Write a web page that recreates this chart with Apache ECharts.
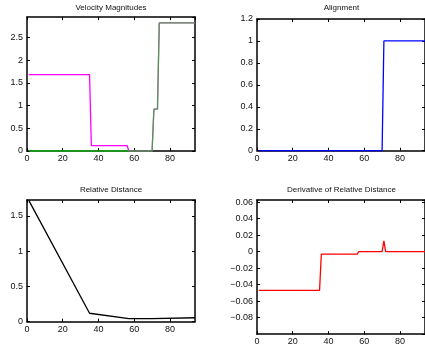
<!DOCTYPE html>
<html>
<head>
<meta charset="utf-8">
<script src="https://cdn.jsdelivr.net/npm/echarts@6/dist/echarts.min.js"></script>
<style>
body{margin:0;background:#fff;}
#main{width:425px;height:349px;}
</style>
</head>
<body>
<div id="main"></div>
<script>
// data: [sample, value]
var titles = ['Velocity Magnitudes', 'Alignment', 'Relative Distance', 'Derivative of Relative Distance'];
var velMagenta = [[1,1.68],[35,1.68],[36,0.12],[56,0.12],[57,0],[70,0],[71,0.92],[73,0.92],[74,2.82],[94,2.82]];
var velGreen = [[1,0],[70,0],[71,0.92],[73,0.92],[74,2.82],[94,2.82]];
var alignment = [[1,0],[70,0],[71,1],[94,1]];
var relDist = [[1,1.72],[35,0.12],[57,0.043],[70,0.043],[71,0.056],[94,0.056]];
var relDistDeriv = [[1,-0.047],[35,-0.047],[36,-0.003],[56,-0.003],[57,0],[70,0],[71,0.013],[72,0],[94,0]];
var xMax = 94, xStep = 20;

var font = 'Liberation Sans';
var myChart = echarts.init(document.getElementById('main'));

// grid boxes: left, top, width, height
var boxes = [
	[27, 17, 168, 134],
	[257, 19, 169, 131.7],
	[27, 200, 168, 121.7],
	[257, 200, 169, 134.2]
];
// y ranges
var yRange = [
	{min: 0, max: 2.95, interval: 0.5, maxLabel: false, minLabel: true},
	{min: 0, max: 1.2, interval: 0.2, maxLabel: true, minLabel: true},
	{min: 0, max: 1.725, interval: 0.5, maxLabel: false, minLabel: true},
	{min: -0.1, max: 0.0625, interval: 0.02, maxLabel: false, minLabel: false}
];
var titleY = [4, 4, 186, 186];

function fmt(v){
	var s = String(+v.toFixed(4));
	if (v < 0) s = '\u2212' + s.substring(1);
	return s;
}

var grid = [], xAxis = [], yAxis = [], title = [];
for (var i = 0; i < 4; i++) {
	var b = boxes[i];
	grid.push({left: b[0], top: b[1], width: b[2], height: b[3]});
	title.push({
		text: titles[i],
		left: b[0] + b[2] / 2,
		top: titleY[i],
		padding: 0,
		textAlign: 'center',
		textStyle: {fontFamily: font, fontSize: 8, fontWeight: 'normal', color: '#111'}
	});
	['bottom', 'top'].forEach(function(pos){
		xAxis.push({
			type: 'value', gridIndex: i, position: pos,
			min: 0, max: xMax, interval: xStep,
			axisLine: {show: true, onZero: false, lineStyle: {color: '#000', width: 1.5}},
			axisTick: {show: true, inside: true, length: 3, lineStyle: {color: '#000'}},
			axisLabel: {show: pos == 'bottom', margin: 3, showMaxLabel: false,
				fontFamily: font, fontSize: 9, color: '#111'},
			splitLine: {show: false}
		});
	});
	['left', 'right'].forEach(function(pos){
		var r = yRange[i];
		yAxis.push({
			type: 'value', gridIndex: i, position: pos,
			min: r.min, max: r.max, interval: r.interval,
			axisLine: {show: true, onZero: false, lineStyle: {color: '#000', width: 1.5}},
			axisTick: {show: true, inside: true, length: 3, lineStyle: {color: '#000'}},
			axisLabel: {show: pos == 'left', margin: 4, showMaxLabel: r.maxLabel, showMinLabel: r.minLabel,
				fontFamily: font, fontSize: 9, color: '#111', formatter: fmt},
			splitLine: {show: false}
		});
	});
}

function line(data, idx, color, opacity){
	return {
		type: 'line', data: data,
		xAxisIndex: idx * 2, yAxisIndex: idx * 2,
		showSymbol: false, clip: false, silent: true,
		lineStyle: {color: color, width: 1.3, opacity: opacity || 1}
	};
}

var option = {
	animation: false,
	title: title,
	grid: grid,
	xAxis: xAxis,
	yAxis: yAxis,
	series: [
		line(velMagenta, 0, '#ff00ff'),
		line(velGreen, 0, '#00dd00', 0.7),
		line(alignment, 1, '#0000ff'),
		line(relDist, 2, '#000000'),
		line(relDistDeriv, 3, '#ff0000')
	]
};
myChart.setOption(option);
</script>
</body>
</html>
